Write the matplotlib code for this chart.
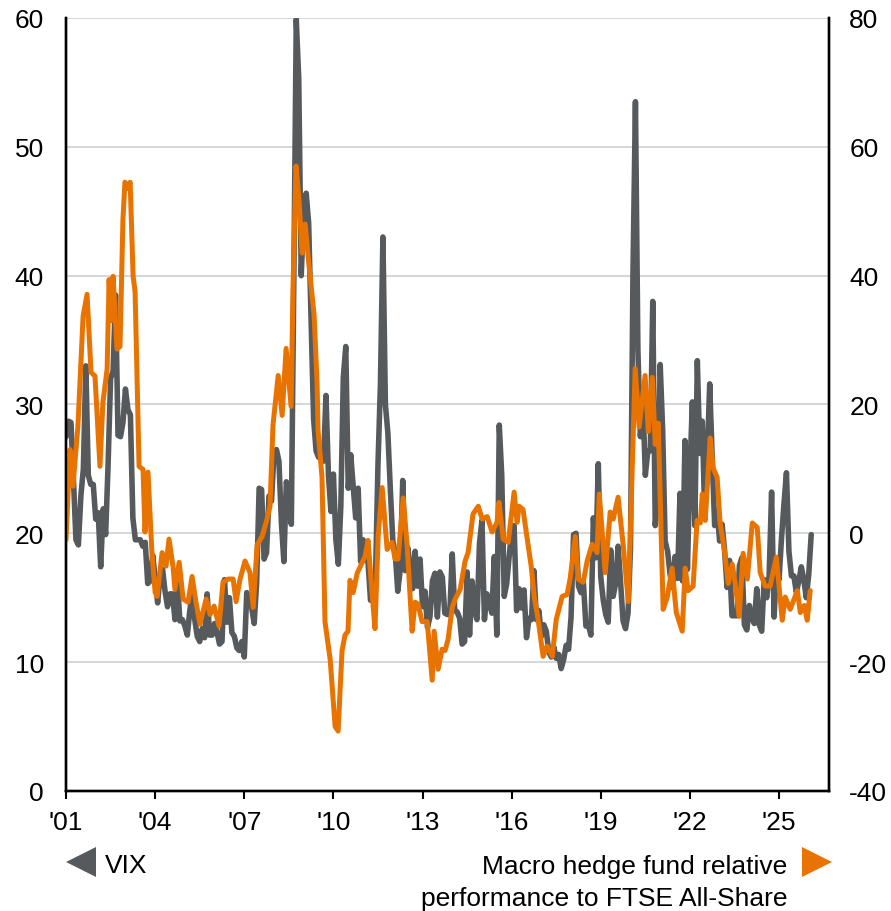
import numpy as np
import matplotlib.pyplot as plt
from matplotlib.lines import Line2D

plt.rcParams['font.family'] = 'Liberation Sans'
plt.rcParams['axes.unicode_minus'] = False

# VIX, month-end level, one value per month starting Jan 2001 (left axis)
vix = [
    27.5, 28.7, 28.6, 24.2, 19.5, 19.1, 22.9, 25.0, 33.0, 24.5, 23.8, 23.8,   # 2001
    21.1, 21.6, 17.4, 21.9, 19.9, 25.4, 32.0, 32.6, 38.5, 27.6, 27.5, 28.6,   # 2002
    31.2, 29.6, 29.2, 21.2, 19.5, 19.5, 19.5, 19.0, 19.3, 16.1, 16.3, 18.3,   # 2003
    16.6, 14.6, 16.7, 17.2, 15.5, 14.3, 15.3, 15.3, 13.3, 16.3, 13.2, 13.3,   # 2004
    12.8, 12.1, 14.0, 15.3, 13.3, 12.0, 11.6, 12.6, 11.9, 15.3, 12.1, 12.1,   # 2005
    13.0, 12.3, 11.4, 11.6, 16.4, 13.1, 15.0, 12.3, 12.0, 11.1, 10.9, 11.6,   # 2006
    10.4, 15.4, 14.6, 14.2, 13.0, 16.2, 23.5, 23.4, 18.0, 18.5, 22.9, 22.5,   # 2007
    26.2, 26.5, 25.6, 20.8, 17.8, 24.0, 22.9, 20.7, 39.4, 59.9, 55.3, 40.0,   # 2008
    44.8, 46.4, 44.1, 36.5, 28.9, 26.4, 25.9, 26.0, 25.6, 30.7, 24.5, 21.7,   # 2009
    24.6, 19.5, 17.6, 22.1, 32.1, 34.5, 23.5, 26.1, 23.7, 21.2, 23.5, 17.8,   # 2010
    19.5, 18.4, 17.7, 14.8, 15.5, 16.5, 25.3, 31.6, 43.0, 30.0, 27.8, 23.4,   # 2011
    19.4, 18.4, 15.5, 17.2, 24.1, 17.1, 18.9, 17.5, 15.7, 18.6, 15.9, 18.0,   # 2012
    14.3, 15.5, 12.7, 13.5, 16.3, 16.9, 13.5, 17.0, 16.6, 13.8, 13.7, 13.7,   # 2013
    18.4, 14.0, 13.9, 13.4, 11.4, 11.6, 17.0, 12.1, 16.3, 14.0, 13.3, 19.2,   # 2014
    21.0, 13.3, 15.3, 14.6, 13.8, 18.2, 12.1, 28.4, 24.5, 15.1, 16.1, 18.2,   # 2015
    20.2, 20.6, 14.0, 15.7, 14.2, 15.6, 11.9, 13.4, 13.3, 17.1, 13.3, 14.0,   # 2016
    12.0, 12.9, 12.4, 10.8, 10.4, 11.2, 10.3, 10.6, 9.5, 10.2, 11.3, 11.0,    # 2017
    13.5, 19.9, 20.0, 15.9, 15.4, 16.1, 12.8, 12.9, 12.1, 21.2, 18.1, 25.4,   # 2018
    16.6, 14.8, 13.7, 13.1, 18.7, 15.1, 16.1, 19.0, 16.2, 13.2, 12.6, 13.8,   # 2019
    18.8, 40.1, 53.5, 34.2, 27.5, 30.4, 24.5, 26.4, 26.4, 38.0, 20.6, 22.8,   # 2020
    33.1, 28.0, 19.4, 18.6, 16.8, 15.8, 18.2, 16.5, 23.1, 16.3, 27.2, 17.2,   # 2021
    24.8, 30.2, 20.6, 33.4, 26.2, 28.7, 21.3, 25.9, 31.6, 25.9, 20.6, 21.7,   # 2022
    19.4, 20.7, 18.7, 15.8, 17.9, 13.6, 13.6, 13.6, 17.5, 18.1, 12.9, 12.5,   # 2023
    14.4, 13.4, 13.0, 15.7, 12.9, 12.4, 16.4, 15.0, 16.7, 23.2, 13.5, 17.4,   # 2024
    16.4, 19.6, 22.3, 24.7, 18.6, 16.7, 16.7, 15.4, 16.3, 17.4, 16.4, 15.0,   # 2025
    16.8, 19.9,                                                               # 2026
]

# Macro hedge funds relative to FTSE All-Share (right axis), months since Jan 2001
macro_month = [
    0.0, 1.6, 2.8, 4.8, 6.9, 8.5, 10.1, 11.7, 13.7, 14.9, 16.6, 17.4, 18.2, 19.0,
    20.6, 21.8, 23.0, 23.8, 25.1, 25.9, 27.1, 27.9, 29.5, 31.1, 31.9, 33.1, 34.7,
    36.0, 36.8, 38.8, 40.4, 41.6, 43.2, 44.0, 45.7, 47.3, 49.3, 50.9, 52.5, 54.1,
    56.6, 58.2, 59.8, 61.8, 63.4, 65.5, 67.5, 68.7, 70.3, 72.3, 74.3, 75.6, 77.2,
    79.2, 81.2, 82.4, 83.6, 85.7, 87.3, 88.9, 90.9, 91.7, 92.9, 94.1, 95.4, 96.6,
    97.8, 99.4, 100.2, 101.4, 101.8, 103.4, 104.6, 106.7, 108.7, 109.9, 111.5,
    112.7, 113.9, 114.7, 116.0, 117.6, 118.8, 120.8, 122.0, 123.6, 124.8, 126.1,
    127.7, 129.7, 131.7, 132.9, 134.1, 136.2, 137.8, 139.8, 141.0, 142.2, 143.8,
    145.9, 147.9, 148.7, 150.3, 151.9, 153.1, 154.3, 156.0, 157.2, 159.2, 161.2,
    162.4, 164.4, 166.5, 168.1, 170.1, 172.1, 174.1, 174.9, 176.6, 178.6, 181.0,
    182.2, 183.0, 184.6, 186.3, 187.9, 189.1, 190.7, 192.7, 194.3, 196.4, 198.0,
    200.4, 202.4, 203.6, 205.7, 206.9, 208.9, 210.5, 212.5, 214.5, 215.4, 217.8,
    219.8, 221.0, 223.0, 225.1, 227.1, 229.9, 231.5, 233.9, 235.2, 236.8, 238.0,
    239.2, 241.2, 242.8, 244.8, 246.5, 248.9, 250.1, 251.3, 253.3, 254.9, 256.2,
    257.0, 258.2, 260.2, 261.4, 263.0, 264.2, 265.9, 267.5, 269.1, 270.3, 271.9,
    273.5, 275.2, 277.2, 279.2, 280.4, 282.4, 284.4, 286.9, 289.3, 290.5, 292.5,
    295.4, 296.6, 298.2, 299.4, 300.6,
]
macro_rel = [
    -1.0, 13.0, 7.3, 16.6, 33.7, 37.1, 25.0, 24.4, 10.4, 20.3, 25.5, 39.4, 33.0, 39.9,
    28.6, 29.0, 48.8, 54.5, 53.5, 54.5, 39.9, 37.5, 10.4, 9.9, 0.2, 9.5, -3.0,
    -9.2, -9.8, -3.0, -5.1, -0.9, -5.1, -8.7, -4.5, -10.2, -10.7, -6.7, -10.7, -14.1,
    -10.2, -12.6, -11.3, -14.4, -7.6, -7.1, -7.1, -10.6, -7.1, -4.3, -6.1, -11.5, -1.8,
    -0.5, 2.2, 4.2, 16.8, 24.5, 18.3, 28.7, 19.7, 38.4, 57.0, 51.7, 43.5, 48.0,
    42.9, 36.8, 33.9, 23.4, 16.0, 8.7, -13.7, -19.6, -30.0, -30.7, -18.2,
    -15.8, -15.2, -7.3, -9.2, -6.2, -5.2, -3.6, -1.1, -9.2, -14.8, -0.3,
    7.1, -2.5, -1.4, -4.0, -4.0, 5.5, -2.0, -15.2, -10.7, -11.0, -13.7,
    -13.7, -22.8, -15.2, -21.1, -18.0, -18.2, -16.5, -11.5, -10.2, -8.7, -4.3,
    -3.0, 3.0, 4.2, 2.2, 2.6, 0.2, 1.7, 4.8, -0.9, -1.4, 6.4,
    1.7, 4.2, 3.7, -0.9, -5.1, -9.8, -13.4, -19.1, -17.5, -19.1, -13.4,
    -9.8, -9.5, -7.1, -0.5, -7.1, -7.6, -4.3, -1.7, -3.0, 6.1, -6.1,
    3.3, 2.2, 5.6, -2.0, -10.6, 25.6, 16.5, 24.5, 15.8, 24.2, 13.8,
    17.1, -11.8, -10.0, -5.4, -12.3, -15.2, -5.4, -8.9, -8.2, 2.0, 1.6,
    6.1, 2.0, 14.8, 10.1, 8.7, 1.6, -2.5, -7.8, -4.8, -7.8, -12.9,
    -3.1, -7.1, 1.6, 0.9, -6.1, -8.2, -8.2, -3.7, -13.5, -9.9, -11.8,
    -8.9, -12.3, -11.2, -13.5, -8.9,
]

year_ticks = [0, 36, 72, 108, 144, 180, 216, 252, 288]
year_labels = ["'01", "'04", "'07", "'10", "'13", "'16", "'19", "'22", "'25"]

grey = '#575a5d'
orange = '#e97300'

fig = plt.figure(figsize=(8.91, 9.12), dpi=100)
ax = fig.add_axes([0.0741, 0.1316, 0.8558, 0.8476])
ax2 = ax.twinx()

ax.plot(np.arange(len(vix)), vix, color=grey, lw=4.0,
        solid_joinstyle='round', solid_capstyle='round')
ax2.plot(macro_month, macro_rel, color=orange, lw=3.6,
         solid_joinstyle='round', solid_capstyle='round')

ax.set_xlim(0, 308)
ax.set_ylim(0, 60)
ax2.set_ylim(-40, 80)
ax.set_yticks(np.arange(0, 61, 10))
ax2.set_yticks(np.arange(-40, 81, 20))
ax.set_xticks(year_ticks)
ax.set_xticklabels(year_labels)

ax.grid(axis='y', color='#d0d0d0', lw=1.2)
ax.set_axisbelow(True)

for a in (ax, ax2):
    a.spines['top'].set_visible(False)
    for s in ('left', 'right', 'bottom'):
        a.spines[s].set_linewidth(1.7)
        a.spines[s].set_color('black')
ax.tick_params(axis='y', length=0, pad=16, labelsize=19)
ax2.tick_params(axis='y', length=0, pad=15, labelsize=19)
ax.tick_params(axis='x', length=6, width=1.5, pad=8, labelsize=19)

# legend markers and labels under the axis
fig.add_artist(Line2D([0.091], [0.0537], marker='<', ms=22, color=grey,
                      mew=0, transform=fig.transFigure))
fig.text(0.118, 0.0504, 'VIX', fontsize=19, va='center', ha='left')
fig.add_artist(Line2D([0.917], [0.0537], marker='>', ms=22, color=orange,
                      mew=0, transform=fig.transFigure))
fig.text(0.884, 0.0318, 'Macro hedge fund relative\nperformance to FTSE All-Share',
         fontsize=19, va='center', ha='right', linespacing=1.45)

fig.savefig('out.png', dpi=100)
